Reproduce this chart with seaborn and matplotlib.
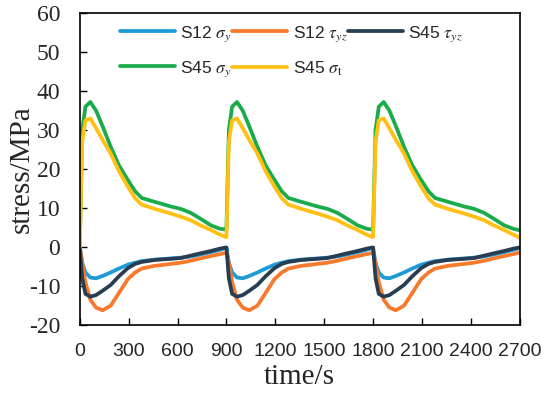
import pandas as pd
import seaborn as sns
import matplotlib.pyplot as plt

# Data (three identical 900 s cycles)
time = [0, 15, 35, 65, 100, 140, 190, 240, 295, 340, 380, 460, 560, 620, 680, 740, 804, 860, 895,
        900, 915, 935, 965, 1000, 1040, 1090, 1140, 1195, 1240, 1280, 1360, 1460, 1520, 1580, 1640, 1704, 1760, 1795,
        1800, 1815, 1835, 1865, 1900, 1940, 1990, 2040, 2095, 2140, 2180, 2260, 2360, 2420, 2480, 2540, 2604, 2660, 2700]

s12_sigma_y = [0, -4, -6.5, -7.8, -8.0, -7.4, -6.5, -5.5, -4.5, -4.0, -3.6, -3.2, -2.9, -2.7, -2.4, -1.9, -1.3, -0.7, -0.2,
               -0.2, -4, -6.5, -7.8, -8.0, -7.4, -6.5, -5.5, -4.5, -4.0, -3.6, -3.2, -2.9, -2.7, -2.4, -1.9, -1.3, -0.7, -0.2,
               -0.2, -4, -6.5, -7.8, -8.0, -7.4, -6.5, -5.5, -4.5, -4.0, -3.6, -3.2, -2.9, -2.7, -2.4, -1.9, -1.3, -0.7, -0.2]

s12_tau_yz = [0, -4, -9, -13.5, -15.5, -16.2, -15.0, -11.8, -8.2, -6.5, -5.5, -4.8, -4.3, -4.0, -3.5, -2.9, -2.3, -1.8, -1.5,
              -1.5, -4, -9, -13.5, -15.5, -16.2, -15.0, -11.8, -8.2, -6.5, -5.5, -4.8, -4.3, -4.0, -3.5, -2.9, -2.3, -1.8, -1.5,
              -1.5, -4, -9, -13.5, -15.5, -16.2, -15.0, -11.8, -8.2, -6.5, -5.5, -4.8, -4.3, -4.0, -3.5, -2.9, -2.3, -1.8, -1.4]

s45_tau_yz = [0, -8, -12, -12.7, -12.3, -11.2, -9.7, -7.5, -5.4, -4.3, -3.8, -3.3, -3.0, -2.8, -2.2, -1.6, -1.0, -0.4, -0.1,
              -0.1, -8, -12, -12.7, -12.3, -11.2, -9.7, -7.5, -5.4, -4.3, -3.8, -3.3, -3.0, -2.8, -2.2, -1.6, -1.0, -0.4, -0.1,
              -0.1, -8, -12, -12.7, -12.3, -11.2, -9.7, -7.5, -5.4, -4.3, -3.8, -3.3, -3.0, -2.8, -2.2, -1.6, -1.0, -0.4, -0.1]

s45_sigma_y = [0, 30, 36, 37.2, 35, 31, 25.7, 21, 17.2, 14.3, 12.6, 11.6, 10.4, 9.8, 8.8, 7.3, 5.6, 4.7, 4.5,
               4.5, 30, 36, 37.2, 35, 31, 25.7, 21, 17.2, 14.3, 12.6, 11.6, 10.4, 9.8, 8.8, 7.3, 5.6, 4.7, 4.5,
               4.5, 30, 36, 37.2, 35, 31, 25.7, 21, 17.2, 14.3, 12.6, 11.6, 10.4, 9.8, 8.8, 7.3, 5.6, 4.7, 4.3]

s45_sigma_t = [0, 27, 32.5, 33, 30.5, 27.5, 24, 19.5, 15.5, 12.5, 10.9, 9.8, 8.6, 7.8, 6.9, 5.6, 4.4, 3.2, 2.6,
               2.6, 27, 32.5, 33, 30.5, 27.5, 24, 19.5, 15.5, 12.5, 10.9, 9.8, 8.6, 7.8, 6.9, 5.6, 4.4, 3.2, 2.6,
               2.6, 27, 32.5, 33, 30.5, 27.5, 24, 19.5, 15.5, 12.5, 10.9, 9.8, 8.6, 7.8, 6.9, 5.6, 4.4, 3.2, 2.4]

labels = [r"S12 $\sigma_y$", r"S12 $\tau_{yz}$", r"S45 $\tau_{yz}$", r"S45 $\sigma_y$", r"S45 $\sigma_\mathrm{t}$"]
series = [s12_sigma_y, s12_tau_yz, s45_tau_yz, s45_sigma_y, s45_sigma_t]
colors = ["#1e9bd7", "#f7792b", "#283c52", "#1aab4b", "#ffc012"]

df = pd.concat([pd.DataFrame({"time": time, "stress": s, "series": lab})
                for s, lab in zip(series, labels)], ignore_index=True)

# Setup
sns.set_style("white")
plt.rcParams["mathtext.fontset"] = "stix"
plt.rcParams["axes.unicode_minus"] = False
plt.rcParams["xtick.direction"] = "in"
plt.rcParams["ytick.direction"] = "in"

fig = plt.figure(figsize=(5.5, 3.96), dpi=100)
ax = fig.add_axes([0.145, 0.179, 0.80, 0.788])

sns.lineplot(data=df, x="time", y="stress", hue="series", hue_order=labels,
             palette=dict(zip(labels, colors)), linewidth=2.7, ax=ax, sort=False)

ax.set_xlim(0, 2700)
ax.set_ylim(-20, 60)
ax.set_xticks(range(0, 2701, 300))
ax.set_yticks(range(-20, 61, 10))
ax.tick_params(axis="both", length=5, width=1, color="black", bottom=True, left=True)
ax.tick_params(axis="x", pad=13)
ax.tick_params(axis="y", pad=14)
for lab in ax.get_xticklabels():
    lab.set_fontfamily("Liberation Sans")
    lab.set_fontsize(14)
for lab in ax.get_yticklabels():
    lab.set_fontfamily("Liberation Serif")
    lab.set_fontsize(17)
for sp in ax.spines.values():
    sp.set_color("black")
    sp.set_linewidth(1.2)

ax.set_xlabel("time/s", fontfamily="Liberation Serif", fontsize=21, labelpad=3)
ax.set_ylabel("stress/MPa", fontfamily="Liberation Serif", fontsize=21, labelpad=-4)

# Legend: 3 columns, row-wise order like the reference
handles, labs = ax.get_legend_handles_labels()
order = [0, 3, 1, 4, 2]
ax.legend([handles[i] for i in order], [labs[i] for i in order], ncol=3,
          loc="upper left", bbox_to_anchor=(0.055, 1.015), frameon=False,
          prop={"family": "Liberation Sans", "size": 12.5},
          handlelength=3.2, handletextpad=0.3, columnspacing=0.0, labelspacing=0.9)

plt.savefig("out.png", dpi=100)
plt.close()
